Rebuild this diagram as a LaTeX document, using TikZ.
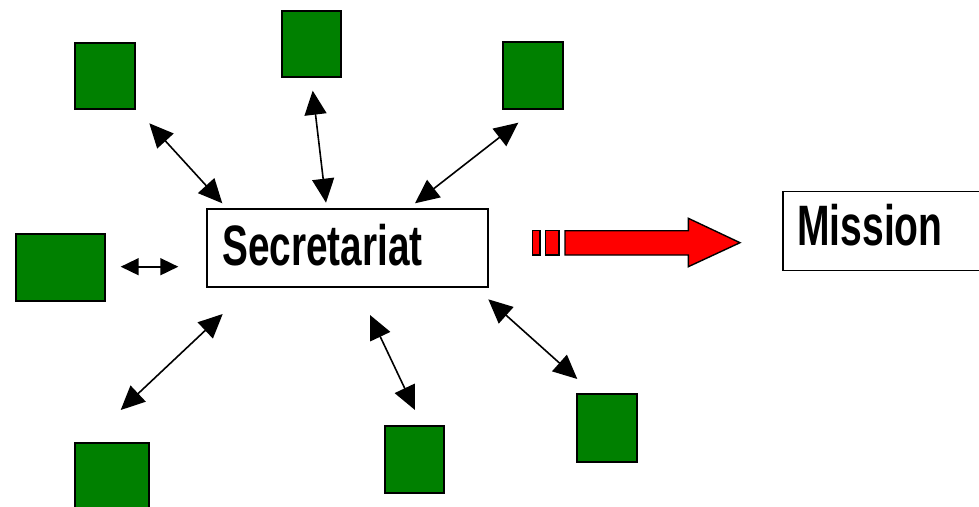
\documentclass[tikz,border=0pt]{standalone}
\usepackage{fontspec}
\setmainfont{Liberation Sans}
\usetikzlibrary{arrows.meta}
\definecolor{boxgreen}{RGB}{0,128,0}
\definecolor{arrred}{RGB}{255,0,0}
\begin{document}
\begin{tikzpicture}[x=1pt,y=-1pt,
  sq/.style={draw=black, fill=boxgreen, line width=1.6pt, inner sep=0pt},
  wbox/.style={draw=black, fill=white, line width=1.3pt, inner sep=0pt},
  link/.style={line width=1.6pt, {Triangle[length=24pt,width=22pt]}-{Triangle[length=24pt,width=22pt]}},
  shortlink/.style={line width=1.6pt, {Triangle[length=18pt,width=17pt]}-{Triangle[length=18pt,width=17pt]}},
  redpart/.style={draw=black, fill=arrred, line width=1.4pt, line join=miter},
  lbl/.style={anchor=base west, inner sep=0pt, font=\fontsize{57}{60}\selectfont\bfseries}
]
\useasboundingbox (0,0) rectangle (979,506);
% green squares
\node[sq, minimum width=60pt, minimum height=66pt] (s1) at (105,76) {};
\node[sq, minimum width=59pt, minimum height=66pt] (s2) at (311.5,44) {};
\node[sq, minimum width=60pt, minimum height=67pt] (s3) at (533,75.5) {};
\node[sq, minimum width=89pt, minimum height=67pt] (s4) at (60.5,267.5) {};
\node[sq, minimum width=74pt, minimum height=70pt] (s5) at (112,478) {};
\node[sq, minimum width=59pt, minimum height=67pt] (s6) at (414.5,459.5) {};
\node[sq, minimum width=60pt, minimum height=68pt] (s7) at (607,428) {};
% white boxes
\node[wbox, minimum width=281pt, minimum height=78pt] (sec) at (347.5,248) {};
\node[wbox, minimum width=210pt, minimum height=79pt] (mis) at (888,231) {};
\node[lbl] (sectext) at (222,265) {\scalebox{0.68}[1]{Secretariat}};
\node[lbl] (mistext) at (797,245.5) {\scalebox{0.685}[1]{Mission}};
% arrow end points
\coordinate (a1s) at (149.3,123.3); \coordinate (a1e) at (222.3,203.3);
\coordinate (a2s) at (312.7,90.7);  \coordinate (a2e) at (326,202.7);
\coordinate (a3s) at (518.3,122.7); \coordinate (a3e) at (415,203.3);
\coordinate (a4s) at (120.7,266.7); \coordinate (a4e) at (178.3,266.7);
\coordinate (a5s) at (222.7,314);   \coordinate (a5e) at (120.7,410);
\coordinate (a6s) at (370,315);     \coordinate (a6e) at (415,410);
\coordinate (a7s) at (488.3,299.3); \coordinate (a7e) at (577.3,379);
\draw[link] (a1s) -- (a1e);
\draw[link] (a2s) -- (a2e);
\draw[link] (a3s) -- (a3e);
\draw[shortlink] (a4s) -- (a4e);
\draw[link] (a5s) -- (a5e);
\draw[link] (a6s) -- (a6e);
\draw[link] (a7s) -- (a7e);
% red block arrow
\draw[redpart] (532.7,230.7) rectangle (540,255);
\draw[redpart] (545.7,230.7) rectangle (559,255);
\draw[redpart] (565,230.7) -- (688.3,230.7) -- (688.3,218.3) -- (740,242.7) -- (688.3,266.7) -- (688.3,255) -- (565,255) -- cycle;
\end{tikzpicture}
\end{document}
